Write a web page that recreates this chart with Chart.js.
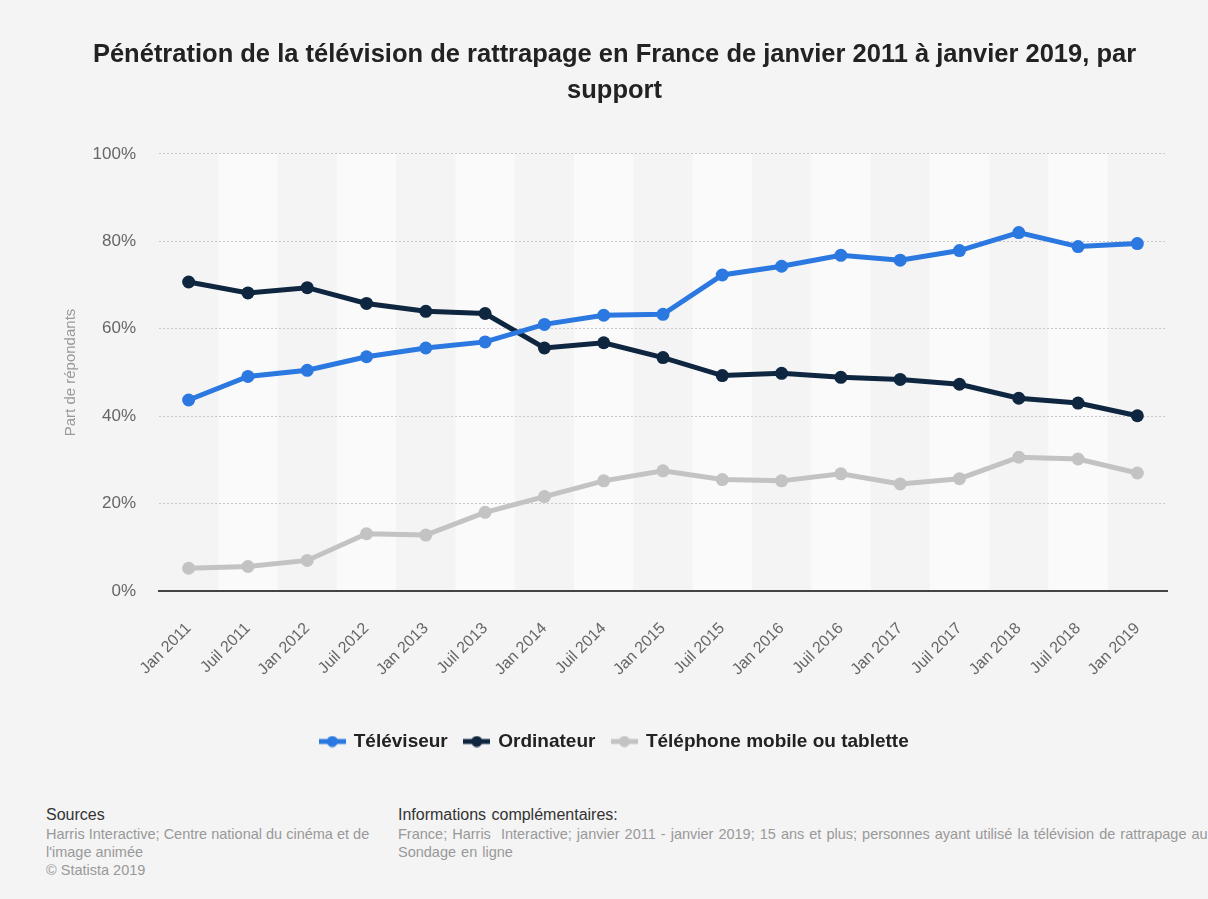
<!DOCTYPE html>
<html>
<head>
<meta charset="utf-8">
<script src="https://cdn.jsdelivr.net/npm/chart.js@4/dist/chart.umd.min.js"></script>
<style>
  body { margin:0; background:#f4f4f4; font-family:"Liberation Sans", Arial, sans-serif; }
  #wrap { position:relative; width:1208px; height:899px; overflow:hidden; }
  #box { position:absolute; left:0; top:0; width:1208px; height:775px; }
  .foot { position:absolute; top:806px; font-size:14.5px; line-height:18px; color:#999; white-space:nowrap; }
  .foot b { display:block; font-weight:normal; color:#333; font-size:16px; margin-bottom:1px; }
</style>
</head>
<body>
<div id="wrap">
  <div id="box"><canvas id="mycanvas"></canvas></div>
  <div class="foot" style="left:46px;">
    <b>Sources</b>
    Harris Interactive; Centre national du cinéma et de<br>
    l'image animée<br>
    © Statista 2019
  </div>
  <div class="foot" style="left:398px; width:810px; overflow:hidden; word-spacing:1px;">
    <b>Informations complémentaires:</b>
    France; Harris&nbsp; Interactive; janvier 2011 - janvier 2019; 15 ans et plus; personnes ayant utilisé la télévision de rattrapage au cours des 12 derniers mois<br>
    Sondage en ligne
  </div>
</div>
<script>
var periodes = ['Jan 2011','Juil 2011','Jan 2012','Juil 2012','Jan 2013','Juil 2013','Jan 2014','Juil 2014','Jan 2015','Juil 2015','Jan 2016','Juil 2016','Jan 2017','Juil 2017','Jan 2018','Juil 2018','Jan 2019'];
var televiseur = [43.7, 49.1, 50.5, 53.6, 55.6, 57.0, 61.0, 63.1, 63.3, 72.3, 74.3, 76.8, 75.7, 77.9, 82.0, 78.8, 79.5];
var ordinateur = [70.7, 68.2, 69.4, 65.8, 64.0, 63.5, 55.6, 56.8, 53.4, 49.3, 49.8, 48.9, 48.4, 47.3, 44.1, 43.0, 40.1];
var telephone = [5.2, 5.6, 7.0, 13.1, 12.8, 18.0, 21.6, 25.2, 27.5, 25.5, 25.2, 26.8, 24.5, 25.7, 30.6, 30.2, 27.0];
var yTicks = [0, 20, 40, 60, 80, 100];

function legendIcon(color){
	var c=document.createElement('canvas');
	c.width=27; c.height=12;
	var g=c.getContext('2d');
	g.fillStyle=color;
	g.fillRect(0,3.5,27,5);
	g.beginPath(); g.arc(13.5,6,5.5,0,Math.PI*2); g.fill();
	return c;
}

var bands={
	id:'bands',
	beforeDraw:function(chart){
		var ctx=chart.ctx, a=chart.chartArea, x=chart.scales.x;
		ctx.save();
		ctx.fillStyle='#f4f4f4';
		ctx.fillRect(0,0,chart.width,chart.height);
		var w=a.width/periodes.length;
		ctx.fillStyle='#fafafa';
		for(var i=1;i<periodes.length;i+=2){
			var cx=x.getPixelForValue(i);
			ctx.fillRect(cx-w/2,a.top,w,a.bottom-a.top);
		}
		ctx.restore();
	}
};

var colors=['#2a78e0','#0f2640','#c3c3c3'];
var chartdata={
	labels:periodes,
	datasets:[
		{label:'Téléviseur',data:televiseur},
		{label:'Ordinateur',data:ordinateur},
		{label:'Téléphone mobile ou tablette',data:telephone}
	].map(function(d,i){
		d.borderColor=colors[i];
		d.backgroundColor=colors[i];
		d.pointBackgroundColor=colors[i];
		d.borderWidth=5;
		d.pointRadius=6.5;
		d.pointBorderWidth=0;
		d.tension=0;
		d.pointStyle='circle';
		return d;
	})
};

var ctx=document.getElementById('mycanvas');
var lineGraph=new Chart(ctx,{
	type:'line',
	data:chartdata,
	plugins:[bands],
	options:{
		responsive:true,
		maintainAspectRatio:false,
		animation:false,
		layout:{padding:{left:62,right:41,top:6,bottom:14}},
		plugins:{
			title:{
				display:true,
				text:['Pénétration de la télévision de rattrapage en France de janvier 2011 à janvier 2019, par','support'],
				color:'#222',
				font:{family:'Liberation Sans',size:25.5,weight:'bold',lineHeight:1.45},
				padding:{top:30,bottom:44}
			},
			legend:{
				position:'bottom',
				labels:{
					usePointStyle:true,
					pointStyleWidth:24,
					color:'#222',
					font:{family:'Liberation Sans',size:19,weight:'bold'},
					padding:17,
					generateLabels:function(chart){
						return chart.data.datasets.map(function(d,i){
							return {text:d.label,pointStyle:legendIcon(colors[i]),fillStyle:colors[i],strokeStyle:colors[i],lineWidth:0,datasetIndex:i,fontColor:'#222'};
						});
					}
				}
			},
			tooltip:{enabled:false}
		},
		scales:{
			x:{
				offset:true,
				grid:{display:false},
				border:{display:true,color:'#444',width:2},
				afterFit:function(s){ s.height=124; },
				ticks:{
					color:'#666',
					font:{family:'Liberation Sans',size:16},
					minRotation:45,maxRotation:45,padding:20
				}
			},
			y:{
				min:0,max:100,
				afterBuildTicks:function(s){ s.ticks=yTicks.map(function(v){return {value:v};}); },
				afterFit:function(s){ s.width=97; },
				border:{display:false,dash:[2,2]},
				grid:{color:'#c8c8c8',lineWidth:1,drawTicks:false},
				ticks:{
					color:'#666',
					font:{family:'Liberation Sans',size:17},
					padding:23,
					callback:function(v){return v+'%';}
				},
				title:{
					display:true,
					text:'Part de répondants',
					color:'#999',
					font:{family:'Liberation Sans',size:15},
					padding:{top:0,bottom:0}
				}
			}
		}
	}
});
</script>
</body>
</html>
